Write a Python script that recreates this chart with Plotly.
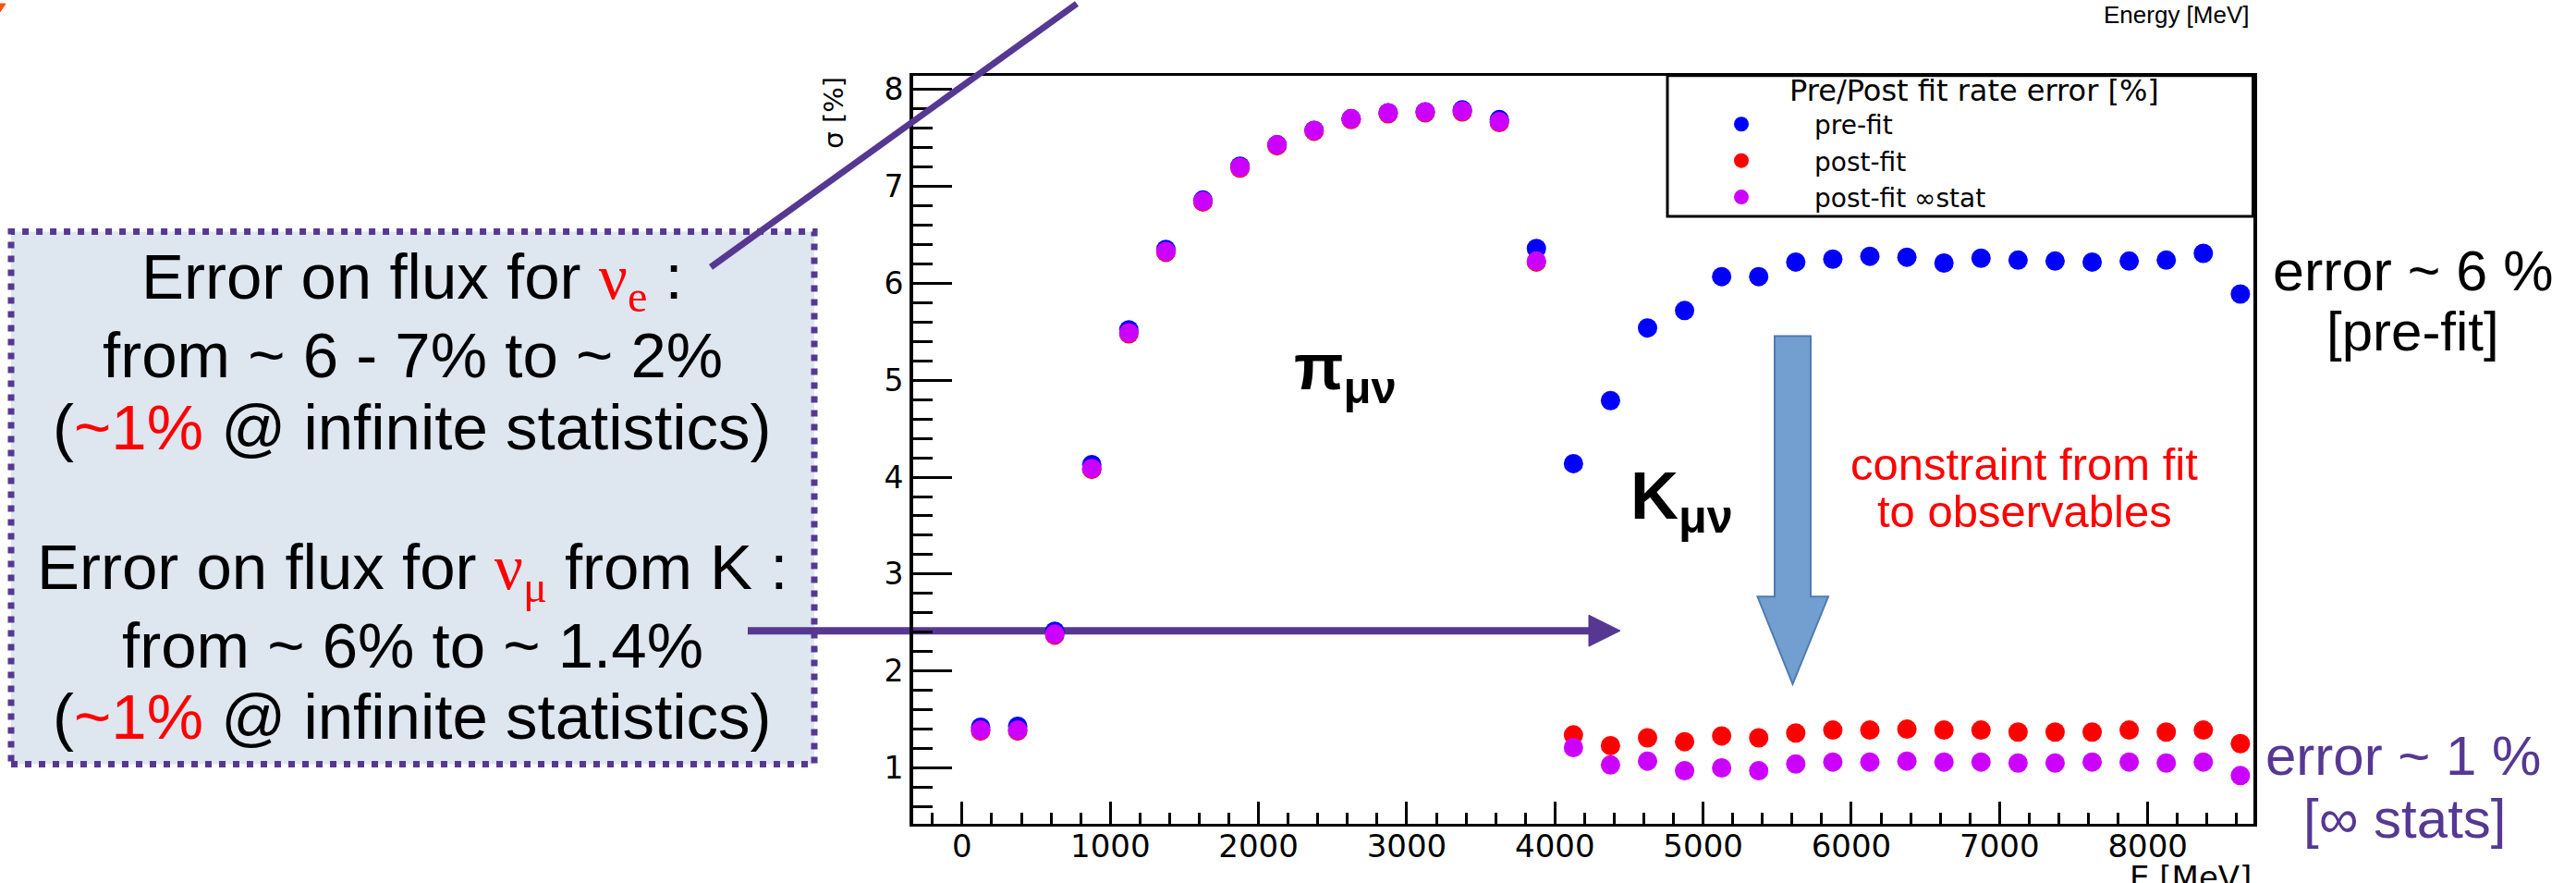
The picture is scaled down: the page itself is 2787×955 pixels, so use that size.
import plotly.graph_objects as go

# ---------------- data ----------------
energy_mev = [125, 375, 625, 875, 1125, 1375, 1625, 1875, 2125, 2375, 2625, 2875,
              3125, 3375, 3625, 3875, 4125, 4375, 4625, 4875, 5125, 5375, 5625, 5875,
              6125, 6375, 6625, 6875, 7125, 7375, 7625, 7875, 8125, 8375, 8625]

pre_fit = [1.42, 1.43, 2.41, 4.13, 5.52, 6.35, 6.86, 7.21, 7.43, 7.58, 7.70, 7.76,
           7.77, 7.79, 7.69, 6.36, 4.14, 4.79, 5.54, 5.72, 6.07, 6.07, 6.22, 6.25,
           6.28, 6.27, 6.21, 6.26, 6.24, 6.23, 6.22, 6.23, 6.24, 6.31, 5.89]

post_fit = [1.38, 1.38, 2.37, 4.08, 5.48, 6.32, 6.84, 7.19, 7.42, 7.57, 7.69, 7.75,
            7.76, 7.77, 7.66, 6.22, 1.34, 1.23, 1.31, 1.27, 1.33, 1.31, 1.36, 1.39,
            1.39, 1.40, 1.39, 1.39, 1.37, 1.37, 1.37, 1.39, 1.37, 1.39, 1.25]

post_fit_inf_stat = [1.39, 1.39, 2.38, 4.09, 5.49, 6.33, 6.85, 7.20, 7.43, 7.58, 7.70, 7.76,
                     7.77, 7.78, 7.67, 6.23, 1.21, 1.03, 1.07, 0.97, 1.00, 0.97, 1.04, 1.06,
                     1.06, 1.07, 1.06, 1.06, 1.05, 1.05, 1.06, 1.06, 1.05, 1.06, 0.92]

series_names = ["pre-fit", "post-fit", "post-fit \u221estat"]
series_colors = ["#0000ff", "#ff0000", "#cc00ff"]
x_tick_values = [0, 1000, 2000, 3000, 4000, 5000, 6000, 7000, 8000]
y_tick_values = [1, 2, 3, 4, 5, 6, 7, 8]
x_range = [-330, 8710]
y_range = [0.42, 8.145]

# ---------------- layout helpers ----------------
W, H = 2787, 955


def px(x):
    return x / W


def py(y):
    return 1 - y / H


def path(points):
    return "M " + " L ".join(f"{px(x):.6f},{py(y):.6f}" for x, y in points) + " Z"


PURPLE = "#563893"
RED = "#ff0000"
ROOT_FONT = "DejaVu Sans"
SLIDE_FONT = "Liberation Sans"

fig = go.Figure()
for name, vals, col in zip(series_names, [pre_fit, post_fit, post_fit_inf_stat], series_colors):
    fig.add_trace(go.Scatter(x=energy_mev, y=vals, mode="markers", name=name,
                             marker=dict(color=col, size=21, line=dict(width=0))))

axis_common = dict(showgrid=False, zeroline=False, showline=True, linecolor="black",
                   mirror=True, ticks="inside", tickcolor="black")

fig.update_layout(
    width=W, height=H, autosize=False,
    margin=dict(l=0, r=0, t=0, b=0, pad=0),
    paper_bgcolor="white", plot_bgcolor="white",
    xaxis=dict(domain=[px(988), px(2437.5)], range=x_range, tickvals=x_tick_values,
               ticklen=24, tickwidth=3, linewidth=3, ticklabelstandoff=-8,
               tickfont=dict(family=ROOT_FONT, size=34, color="black"),
               minor=dict(dtick=200, tick0=0, ticklen=12, tickwidth=3, ticks="inside",
                          tickcolor="black", showgrid=False),
               **axis_common),
    yaxis=dict(domain=[py(891), py(78)], range=y_range, tickvals=y_tick_values,
               ticklen=42, tickwidth=3, linewidth=4,
               tickfont=dict(family=ROOT_FONT, size=33, color="black"),
               minor=dict(dtick=0.2, tick0=0, ticklen=21, tickwidth=3, ticks="inside",
                          tickcolor="black", showgrid=False),
               **axis_common),
    showlegend=True,
    legend=dict(x=px(1805), y=py(106), xanchor="left", yanchor="top",
                bgcolor="rgba(0,0,0,0)", borderwidth=0, itemwidth=148,
                font=dict(family=ROOT_FONT, size=28, color="black"),
                itemsizing="trace", tracegroupgap=0),
)

shapes = []
# legend frame
shapes.append(dict(type="rect", xref="paper", yref="paper", x0=px(1804), x1=px(2437.5),
                   y0=py(231), y1=py(78), line=dict(color="black", width=3),
                   fillcolor="white", layer="above"))
# text box
shapes.append(dict(type="rect", xref="paper", yref="paper", x0=px(12), x1=px(881),
                   y0=py(826), y1=py(247.5), fillcolor="#dee6f0",
                   line=dict(color=PURPLE, width=7, dash="7px,8px"), layer="below"))
# horizontal arrow (over the box, under the markers)
shapes.append(dict(type="line", xref="paper", yref="paper", x0=px(809), y0=py(681),
                   x1=px(1722), y1=py(681), line=dict(color=PURPLE, width=8), layer="below"))
shapes.append(dict(type="path", xref="paper", yref="paper",
                   path=path([(1719, 664), (1753, 681), (1719, 698)]),
                   fillcolor=PURPLE, line=dict(color=PURPLE, width=1), layer="below"))
# diagonal pointer line
shapes.append(dict(type="line", xref="paper", yref="paper", x0=px(769), y0=py(286),
                   x1=px(1165), y1=py(0), line=dict(color=PURPLE, width=7), layer="above"))
# blue block arrow
shapes.append(dict(type="path", xref="paper", yref="paper",
                   path=path([(1920, 361), (1959, 361), (1959, 644), (1978, 644),
                              (1939.5, 739), (1901.5, 644), (1920, 644)]),
                   fillcolor="#729fcf", line=dict(color="#4f7bb5", width=2), layer="above"))
# orange fragment in the corner
shapes.append(dict(type="path", xref="paper", yref="paper",
                   path=path([(0, 0), (6, 0), (0, 9)]),
                   fillcolor="#ff4f0f", line=dict(color="#ff4f0f", width=1), layer="above"))
fig.update_layout(shapes=shapes)


def ann(text, x, y, size, color="black", family=SLIDE_FONT, xanchor="center",
        yanchor="middle", angle=0):
    fig.add_annotation(text=text, x=px(x), y=py(y), xref="paper", yref="paper",
                       showarrow=False, xanchor=xanchor, yanchor=yanchor,
                       textangle=angle, borderpad=0,
                       font=dict(family=family, size=size, color=color))


def nu(sub):
    return (f'<span style="color:{RED};font-family:Liberation Serif">\u03bd'
            f'<sub>{sub}</sub></span>')


red1 = f'<span style="color:{RED}">~1%</span>'

BOX_FS = 69
ann(f"Error on flux for {nu('e')} :", 446, 301, BOX_FS)
ann("from ~ 6 - 7% to ~ 2%", 446, 382, BOX_FS)
ann(f"({red1} @ infinite statistics)", 446, 460, BOX_FS)
ann(f"Error on flux for {nu(chr(0x3bc))} from K :", 446, 617, BOX_FS)
ann("from ~ 6% to ~ 1.4%", 446, 697, BOX_FS)
ann(f"({red1} @ infinite statistics)", 446, 775, BOX_FS)

ann("<b>\u03c0<sub>\u03bc\u03bd</sub></b>", 1455, 400, 70)
ann("<b>K<sub>\u03bc\u03bd</sub></b>", 1819, 540, 72)
ann("constraint from fit", 2190, 500, 49, color=RED)
ann("to observables", 2190, 551, 49, color=RED)
ann("error ~ 6 %", 2610, 290, 61)
ann("[pre-fit]", 2610, 356, 60)
ann("error ~ 1 %", 2600, 817, 60, color=PURPLE)
ann("[\u221e stats]", 2602, 885, 60, color=PURPLE)

ann("Pre/Post fit rate error [%]", 2136, 94, 32, family=ROOT_FONT)
ann("\u03c3 [%]", 902, 78, 29, family=ROOT_FONT, yanchor="top", angle=-90)
ann("E [MeV]", 2437, 928, 34, family=ROOT_FONT, xanchor="right", yanchor="top")
ann("Energy [MeV]", 2435, 12, 26, xanchor="right")

fig.write_html("out.html",
               config={"displayModeBar": False},
               post_script="document.body.style.margin='0px';"
                           "document.body.style.padding='0px';")
